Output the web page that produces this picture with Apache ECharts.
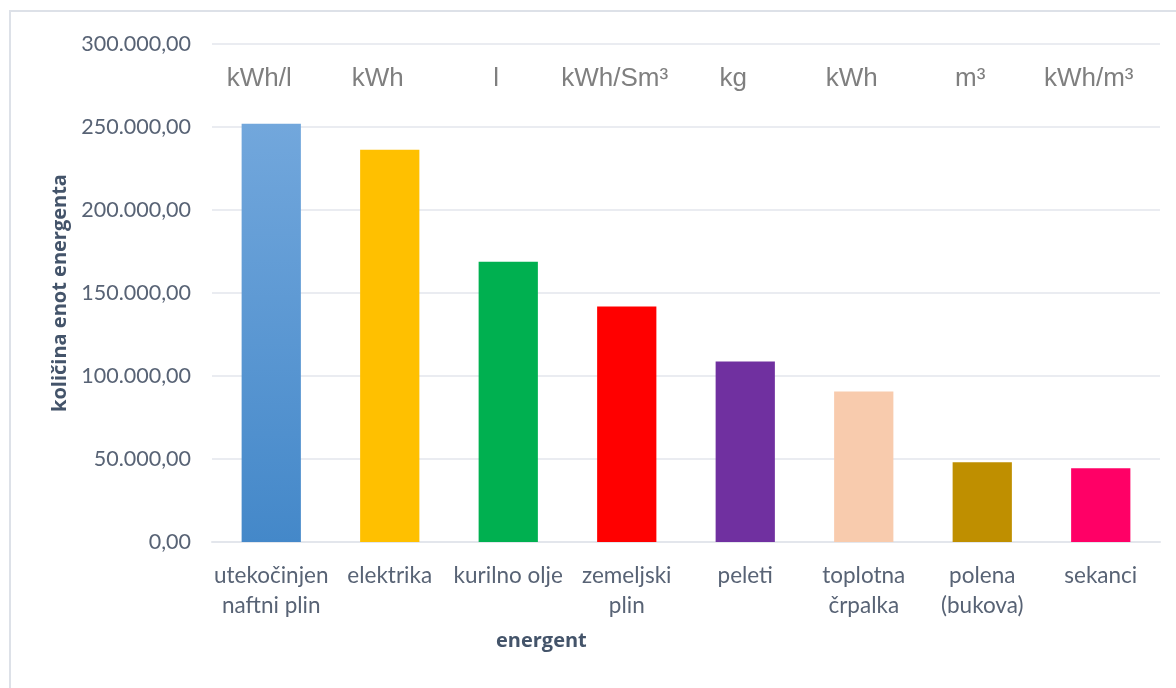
<!DOCTYPE html>
<html>
<head>
<meta charset="utf-8">
<script src="https://cdn.jsdelivr.net/npm/echarts@6/dist/echarts.min.js"></script>
<style>
  html, body { margin: 0; padding: 0; background: #fff; }
  #chart { width: 1176px; height: 688px; }
</style>
</head>
<body>
<div id="chart"></div>
<script>
// energenti (kategorije)
var categories = ['utekočinjen\nnaftni plin', 'elektrika', 'kurilno olje', 'zemeljski\nplin',
  'peleti', 'toplotna\nčrpalka', 'polena\n(bukova)', 'sekanci'];
// enote za vsak energent
var units = ['kWh/l', 'kWh', 'l', 'kWh/Sm³', 'kg', 'kWh', 'm³', 'kWh/m³'];
// količina enot energenta
var amounts = [252000, 236300, 168900, 141900, 108800, 90700, 48000, 44400];
var barColors = [null, '#ffc000', '#00b050', '#ff0000', '#7030a0', '#f8cbad', '#bf8f00', '#ff0066'];

var myChart = echarts.init(document.getElementById('chart'));

// oblika števil: 250.000,00
var fmt = function (v) {
  var parts = v.toFixed(2).split('.');
  var intPart = parts[0].replace(/\B(?=(\d{3})+(?!\d))/g, '.');
  return intPart + ',' + parts[1];
};

var labelColor = '#586375';
var nameColor = '#44546a';
var gridColor = '#e3e6ec';

var seriesData = amounts.map(function (v, i) {
  var color = barColors[i];
  if (i === 0) {
    // prvi stolpec ima gradient
    color = new echarts.graphic.LinearGradient(0, 0, 0, 1, [
      { offset: 0, color: '#72a7dc' },
      { offset: 1, color: '#4488c9' }
    ]);
  }
  return { value: v, itemStyle: { color: color } };
});

var option = {
  animation: false,
  backgroundColor: '#fff',
  textStyle: { fontFamily: 'Lato' },
  graphic: [
    {
      type: 'rect',
      shape: { x: 10, y: 11, width: 1200, height: 720 },
      style: { fill: 'none', stroke: '#dde1e8', lineWidth: 2 },
      silent: true,
      z: -1
    }
  ],
  title: {
    text: 'energent',
    left: 491,
    top: 626,
    textStyle: { fontFamily: 'Open Sans', fontSize: 20, fontWeight: 'bold', color: nameColor }
  },
  grid: {
    left: 212,
    right: 16,
    top: 44,
    bottom: 146
  },
  xAxis: [
    {
      type: 'category',
      data: categories,
      axisLine: { lineStyle: { color: gridColor, width: 2 } },
      axisTick: { show: false },
      axisLabel: {
        interval: 0,
        margin: 19,
        fontSize: 22.5,
        lineHeight: 30,
        color: labelColor,
        fontFamily: 'Lato'
      }
    },
    {
      type: 'category',
      position: 'top',
      data: units,
      axisLine: { show: false },
      axisTick: { show: false },
      axisLabel: {
        interval: 0,
        margin: -48,
        fontSize: 26,
        color: '#7f7f7f',
        fontFamily: 'Liberation Sans',
        padding: [0, 24, 0, 0]
      }
    }
  ],
  yAxis: {
    type: 'value',
    min: 0,
    max: 300000,
    interval: 50000,
    name: 'količina enot energenta',
    nameLocation: 'middle',
    nameGap: 140,
    nameTextStyle: { fontFamily: 'Open Sans', fontSize: 20, fontWeight: 'bold', color: nameColor },
    axisLine: { show: false },
    axisTick: { show: false },
    splitLine: { lineStyle: { color: gridColor, width: 1.5 } },
    axisLabel: {
      margin: 21,
      fontSize: 21.5,
      color: labelColor,
      fontFamily: 'Lato',
      formatter: fmt
    }
  },
  series: [
    {
      type: 'bar',
      xAxisIndex: 0,
      barWidth: '50%',
      data: seriesData
    }
  ]
};

myChart.setOption(option);
</script>
</body>
</html>
